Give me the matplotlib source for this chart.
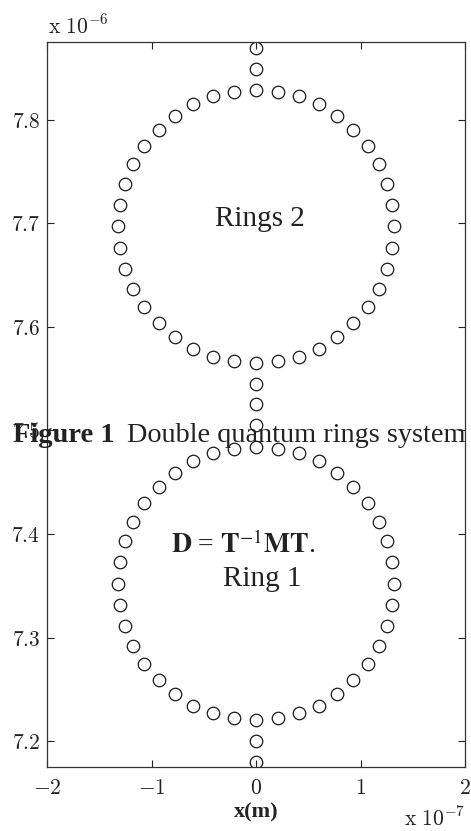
import matplotlib
matplotlib.use("Agg")
import matplotlib.pyplot as plt
from matplotlib.ticker import FuncFormatter

plt.rcParams['mathtext.fontset'] = 'cm'

# ---- data (x in units of 1e-7 m, y in units of 1e-6 m) ----
ring_x = [1.320, 1.304, 1.255, 1.176, 1.068, 0.933, 0.776, 0.599, 0.408, 0.206,
          0.000, -0.206, -0.408, -0.599, -0.776, -0.933, -1.068, -1.176, -1.255, -1.304,
          -1.320, -1.304, -1.255, -1.176, -1.068, -0.933, -0.776, -0.599, -0.408, -0.206,
          0.000, 0.206, 0.408, 0.599, 0.776, 0.933, 1.068, 1.176, 1.255, 1.304]
ring2_y = [7.697, 7.718, 7.738, 7.757, 7.775, 7.790, 7.804, 7.815, 7.823, 7.827,
           7.829, 7.827, 7.823, 7.815, 7.804, 7.790, 7.775, 7.757, 7.738, 7.718,
           7.697, 7.676, 7.656, 7.637, 7.619, 7.604, 7.590, 7.579, 7.571, 7.567,
           7.565, 7.567, 7.571, 7.579, 7.590, 7.604, 7.619, 7.637, 7.656, 7.676]
ring1_y = [7.352, 7.373, 7.393, 7.412, 7.430, 7.445, 7.459, 7.470, 7.478, 7.482,
           7.484, 7.482, 7.478, 7.470, 7.459, 7.445, 7.430, 7.412, 7.393, 7.373,
           7.352, 7.331, 7.311, 7.292, 7.274, 7.259, 7.245, 7.234, 7.227, 7.222,
           7.220, 7.222, 7.227, 7.234, 7.245, 7.259, 7.274, 7.292, 7.311, 7.331]
chain_x = [0.0, 0.0, 0.0, 0.0, 0.0, 0.0, 0.0]
chain_y = [7.869, 7.849, 7.545, 7.525, 7.505, 7.200, 7.180]

x_ticks = [-2, -1, 0, 1, 2]
y_ticks = [7.2, 7.3, 7.4, 7.5, 7.6, 7.7, 7.8]

W, H = 471, 831
fig = plt.figure(figsize=(W / 100, H / 100), dpi=100)
ax = fig.add_axes([47 / W, 1 - 767 / H, (465 - 47) / W, (767 - 42) / H])

mk = dict(linestyle='none', marker='o', markersize=9, markerfacecolor='none',
          markeredgecolor='#1a1a1a', markeredgewidth=0.9)
ax.plot(ring_x, ring2_y, **mk)
ax.plot(ring_x, ring1_y, **mk)
ax.plot(chain_x, chain_y, **mk)

ax.set_xlim(-2, 2)
ax.set_ylim(7.175, 7.875)
ax.set_xticks(x_ticks)
ax.set_yticks(y_ticks)
ax.xaxis.set_major_formatter(FuncFormatter(lambda v, p: r'$%g$' % v))
ax.yaxis.set_major_formatter(FuncFormatter(lambda v, p: r'$%.1f$' % v))
ax.tick_params(direction='in', top=True, right=True, length=5, width=0.8,
               labelsize=15.5, colors='#222222')
ax.tick_params(axis='x', pad=8)
ax.tick_params(axis='y', pad=5)
for s in ax.spines.values():
    s.set_linewidth(0.9)
    s.set_color('#333333')

# exponent labels
fig.text(48 / W, 1 - 33 / H, r'$\mathrm{x}\ 10^{-6}$', fontsize=15.5,
         ha='left', va='baseline', color='#222222')
fig.text(465 / W, 1 - 826 / H, r'$\mathrm{x}\ 10^{-7}$', fontsize=15.5,
         ha='right', va='baseline', color='#222222')

# x label
fig.text(256 / W, 1 - 817 / H, 'x(m)', fontsize=16, fontweight='bold',
         family='Liberation Serif', ha='center', va='baseline', color='#222222')

# annotations inside
ax.text(0.04, 7.697, 'Rings 2', fontsize=21, family='Liberation Serif',
        ha='center', va='baseline', color='#222222')
ax.text(0.062, 7.350, 'Ring 1', fontsize=21, family='Liberation Serif',
        ha='center', va='baseline', color='#222222')
ax.text(-0.124, 7.382, r'$\mathbf{D}$ = $\mathbf{T}^{-1}\mathbf{MT}$.', fontsize=20,
        family='Liberation Serif', math_fontfamily='stix',
        ha='center', va='baseline', color='#222222')

# caption overlay
fig.text(13 / W, 1 - 442 / H, r'Figure 1', fontsize=20.5, fontweight='bold',
         family='Liberation Serif', ha='left', va='baseline', color='#222222')
fig.text(127 / W, 1 - 442 / H, 'Double quantum rings system', fontsize=20.3,
         family='Liberation Serif', ha='left', va='baseline', color='#222222')

fig.savefig('out.png', dpi=100)
